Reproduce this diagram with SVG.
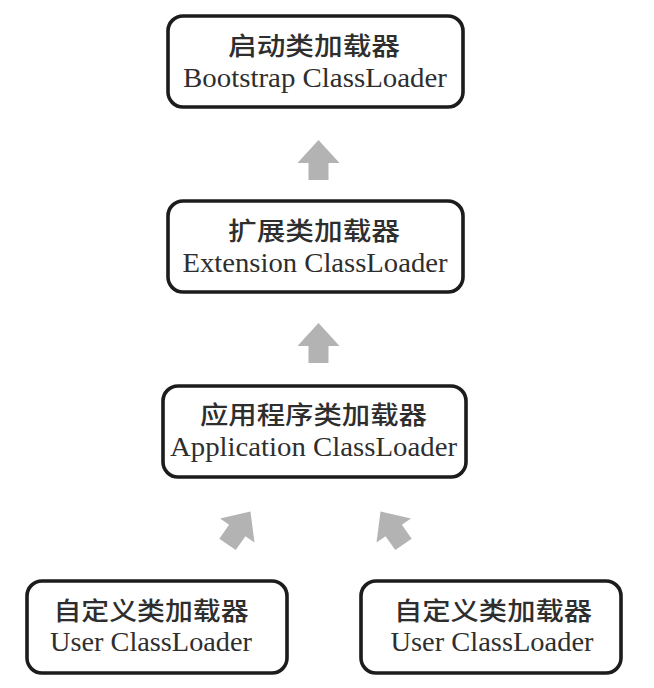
<svg xmlns="http://www.w3.org/2000/svg" width="654" height="688" viewBox="0 0 654 688">
<style>
.box{fill:#fff;stroke:#1c1c1c;stroke-width:3.6}
.zh{font-family:"Noto Sans CJK SC","Liberation Serif",serif;font-size:25px;font-weight:500;fill:#2e2e2e;text-anchor:middle}
.en{font-family:"Liberation Serif","Times New Roman",serif;font-size:27px;fill:#2e2e2e;text-anchor:middle}
.arr{fill:#b3b3b3}
</style>
<defs>
<path id="arrow" d="M0,-20 L21,3 L10,3 L10,20 L-10,20 L-10,3 L-21,3 Z"/>
</defs>
<rect width="654" height="688" fill="#fff"/>
<g id="bootstrap">
<rect class="box" x="168" y="16" width="295" height="91" rx="15"/>
<text class="zh" x="314" y="55" textLength="172" lengthAdjust="spacingAndGlyphs">启动类加载器</text>
<text class="en" x="315" y="87" textLength="264" lengthAdjust="spacingAndGlyphs">Bootstrap ClassLoader</text>
</g>
<g id="extension">
<rect class="box" x="168" y="201" width="295" height="91" rx="15"/>
<text class="zh" x="314" y="240" textLength="172" lengthAdjust="spacingAndGlyphs">扩展类加载器</text>
<text class="en" x="315" y="272" textLength="265" lengthAdjust="spacingAndGlyphs">Extension ClassLoader</text>
</g>
<g id="application">
<rect class="box" x="163" y="386" width="303" height="91" rx="15"/>
<text class="zh" x="313.5" y="424" textLength="227" lengthAdjust="spacingAndGlyphs">应用程序类加载器</text>
<text class="en" x="313.5" y="456" textLength="287" lengthAdjust="spacingAndGlyphs">Application ClassLoader</text>
</g>
<g id="user1">
<rect class="box" x="27" y="581" width="260" height="92" rx="15"/>
<text class="zh" x="151" y="620" textLength="195" lengthAdjust="spacingAndGlyphs">自定义类加载器</text>
<text class="en" x="151" y="651" textLength="202" lengthAdjust="spacingAndGlyphs">User ClassLoader</text>
</g>
<g id="user2">
<rect class="box" x="361" y="581" width="260" height="92" rx="15"/>
<text class="zh" x="493" y="620" textLength="198" lengthAdjust="spacingAndGlyphs">自定义类加载器</text>
<text class="en" x="492" y="651" textLength="203" lengthAdjust="spacingAndGlyphs">User ClassLoader</text>
</g>
<g id="connectors">
<use href="#arrow" class="arr" transform="translate(318.5,160)"/>
<use href="#arrow" class="arr" transform="translate(318.5,343)"/>
<use href="#arrow" class="arr" transform="translate(239,528) rotate(35)"/>
<use href="#arrow" class="arr" transform="translate(392,528) rotate(-35)"/>
</g>
</svg>
